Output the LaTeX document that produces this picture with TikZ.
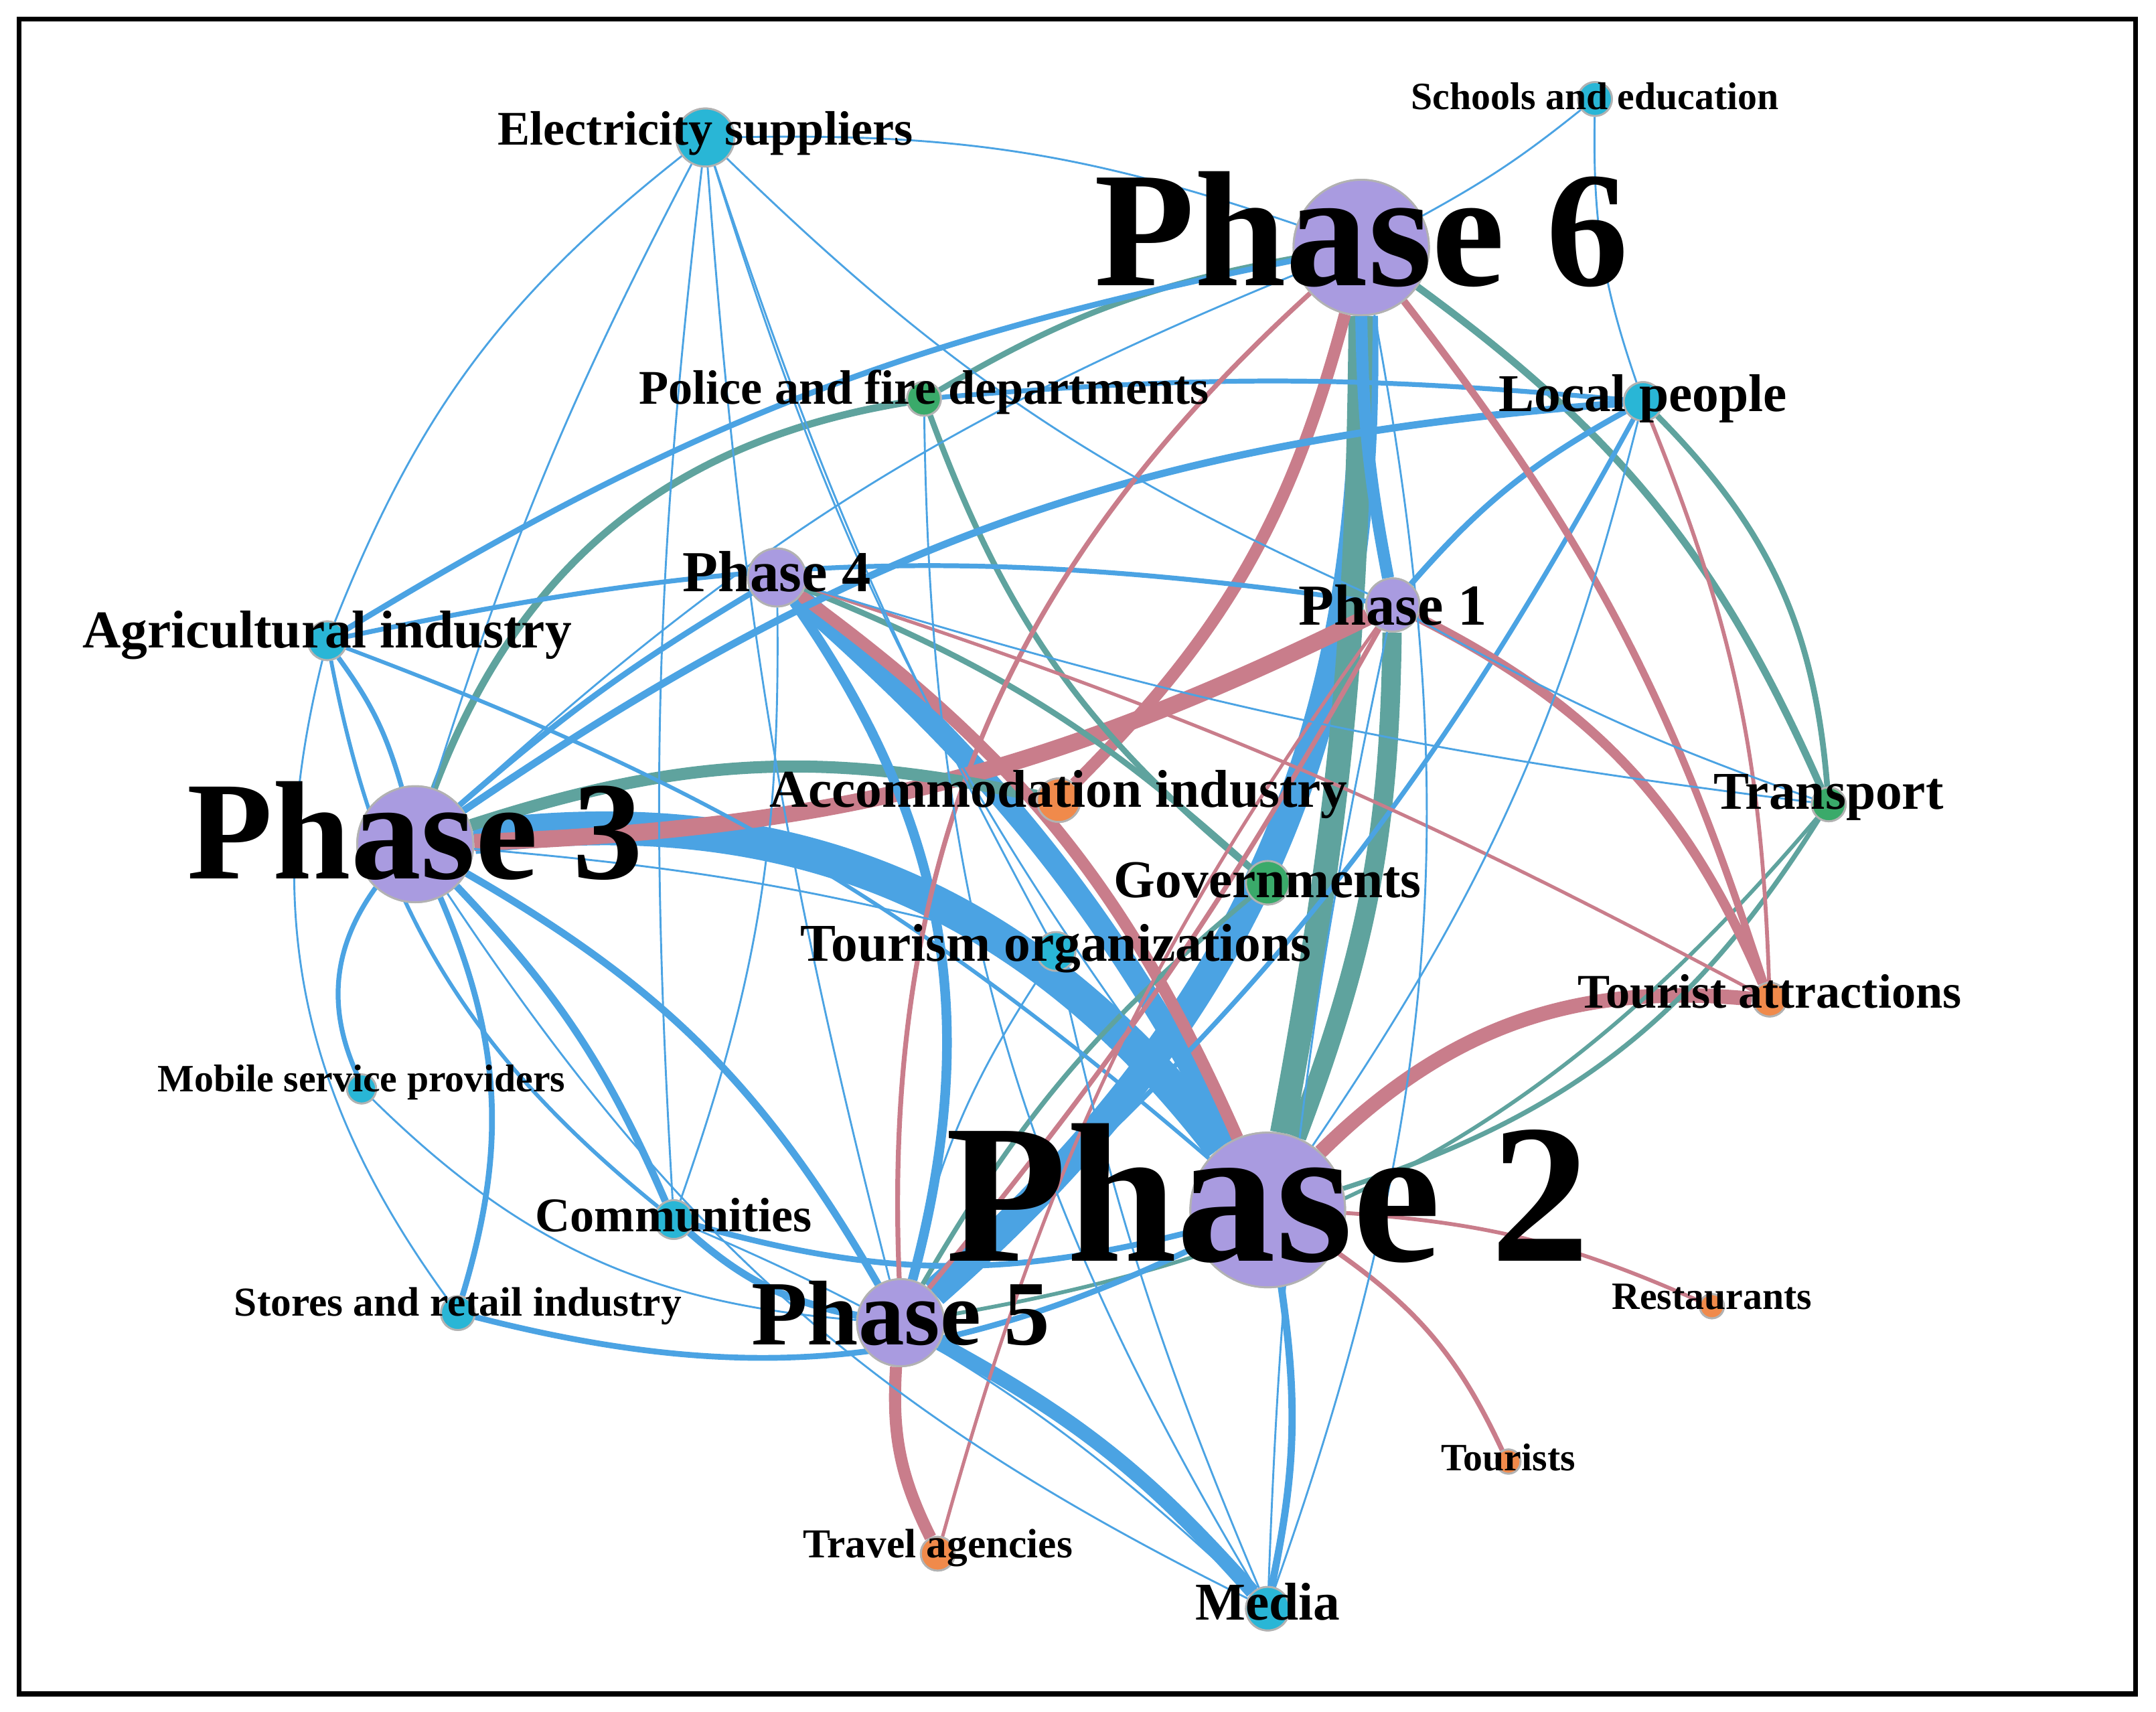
\documentclass[tikz,border=0pt]{standalone}
\usepackage{fontspec}
\setmainfont{Liberation Serif}
\begin{document}
\begin{tikzpicture}[x=0.01cm,y=-0.01cm]
\definecolor{cb}{HTML}{4BA3E3}\definecolor{ct}{HTML}{5FA39E}\definecolor{cp}{HTML}{C97D8B}
\definecolor{ncy}{HTML}{29B6D6}\definecolor{ngr}{HTML}{3AAA6A}\definecolor{nor}{HTML}{F08A4B}\definecolor{npu}{HTML}{A99BE0}
\tikzset{eb/.style={draw=cb,line width=#1},eb/.default=0.4pt,
et/.style={draw=ct,line width=#1},et/.default=0.4pt,
ep/.style={draw=cp,line width=#1},ep/.default=0.4pt,
v/.style={circle,draw=white!70!black,line width=0.4pt,inner sep=0pt,minimum size=#1},
lab/.style={font=\bfseries\fontsize{#1}{#1}\selectfont,inner sep=0pt}}
\useasboundingbox (0,0) rectangle (1568,1245);
\draw[line width=1pt] (14,14) rectangle (1553,1232);
% nodes
\node[v=12pt,fill=ncy] (el) at (513,100) {};
\node[v=7pt,fill=ncy] (sc) at (1160,72) {};
\node[v=28pt,fill=npu] (p6) at (990,180) {};
\node[v=7pt,fill=ngr] (po) at (672,290) {};
\node[v=8pt,fill=ncy] (lo) at (1195,292) {};
\node[v=12pt,fill=npu] (p4) at (565,420) {};
\node[v=11pt,fill=npu] (p1) at (1013,440) {};
\node[v=8pt,fill=ncy] (ag) at (238,466) {};
\node[v=24pt,fill=npu] (p3) at (302,614) {};
\node[v=9pt,fill=nor] (ac) at (770,582) {};
\node[v=7pt,fill=ngr] (tr) at (1330,585) {};
\node[v=9pt,fill=ngr] (go) at (922,642) {};
\node[v=8pt,fill=ncy] (to) at (768,692) {};
\node[v=7pt,fill=nor] (ta) at (1287,727) {};
\node[v=6pt,fill=ncy] (mo) at (263,792) {};
\node[v=32pt,fill=npu] (p2) at (922,880) {};
\node[v=8pt,fill=ncy] (co) at (490,887) {};
\node[v=5pt,fill=nor] (re) at (1245,950) {};
\node[v=7pt,fill=ncy] (st) at (333,955) {};
\node[v=18pt,fill=npu] (p5) at (655,962) {};
\node[v=5pt,fill=nor] (ts) at (1097,1063) {};
\node[v=7pt,fill=nor] (tv) at (682,1130) {};
\node[v=9pt,fill=ncy] (me) at (922,1170) {};
% thick edges
\draw[eb=7pt] (p3) to[bend left=30] (p2);
\draw[eb=6pt] (p6) to[bend left=25] (p5);
\draw[et=5pt] (p6) to[bend left=5] (p2);
\draw[et=4pt] (p1) to[bend left=10] (p2);
\draw[eb=4.5pt] (p4) to[bend left=10] (p2);
\draw[ep=3.5pt] (p3) to[bend right=12] (p1);
\draw[et=2.5pt] (p3) to[bend left=15] (ac);
\draw[ep=2.5pt] (p4) to[bend left=15] (p2);
\draw[ep=2.5pt] (p6) to[bend left=15] (ac);
\draw[eb=2.5pt] (p6) to[bend right=5] (p1);
\draw[eb=2pt] (p4) to[bend left=25] (p5);
\draw[ep=3pt] (p2) to[bend left=25] (ta);
\draw[ep=2.5pt] (p5) to[bend right=15] (tv);
\draw[eb=3pt] (p5) to[bend left=10] (me);
\draw[eb=1.5pt] (p2) to[bend left=10] (me);
\draw[et=1.5pt] (p3) to[bend left=30] (po);
\draw[et=1.2pt] (po) to[bend left=10] (p6);
\draw[et=1.2pt] (po) to[bend right=15] (go);
\draw[et=1.5pt] (p6) to[bend left=15] (tr);
\draw[et=1.2pt] (p4) to[bend left=10] (go);
\draw[et=1pt] (p2) to[bend right=20] (tr);
\draw[et=0.8pt] (p5) to[bend right=20] (tr);
\draw[et=1pt] (p5) to[bend left=10] (go);
\draw[eb=1.5pt] (p3) to[bend left=15] (lo);
\draw[eb=1.2pt] (p3) to[bend left=5] (p4);
\draw[eb=1.5pt] (p3) to[bend left=10] (co);
\draw[eb=1.5pt] (p3) to[bend left=15] (p5);
\draw[eb=1pt] (p3) to[bend right=30] (mo);
\draw[eb=1.2pt] (p3) to[bend left=20] (st);
\draw[eb=1.2pt] (st) to[bend right=20] (p2);
\draw[eb=1.2pt] (co) to[bend right=15] (p2);
\draw[eb=1.5pt] (co) to[bend right=15] (p5);
\draw[eb=1.2pt] (ag) to[bend left=10] (p6);
\draw[eb=1pt] (ag) to[bend left=10] (p1);
\draw[eb=0.8pt] (ag) to[bend right=20] (co);
\draw[eb=0.8pt] (ag) to[bend left=10] (p2);
\draw[eb=1pt] (ag) to[bend left=10] (p3);
\draw[eb=1pt] (po) to[bend left=5] (lo);
\draw[eb=1.2pt] (p1) to[bend left=10] (lo);
\draw[eb=1pt] (lo) to[bend left=10] (p5);
\draw[ep=1pt] (p1) to[bend left=5] (p5);
\draw[ep=1.5pt] (p6) to[bend left=10] (ta);
\draw[ep=2pt] (p1) to[bend left=20] (ta);
\draw[ep=0.8pt] (lo) to[bend left=10] (ta);
\draw[ep=0.8pt] (p2) to[bend left=10] (re);
\draw[ep=1pt] (p2) to[bend left=15] (ts);
\draw[ep=0.7pt] (p4) to[bend left=5] (ta);
\draw[ep=0.7pt] (tv) to[bend left=10] (p1);
\draw[ep=1pt] (p5) to[bend left=25] (p6);
\draw[et=1.2pt] (lo) to[bend left=20] (tr);
\foreach \a/\b/\c in {el/p6/10,el/ag/-15,el/p3/-5,el/co/-5,el/p5/-5,el/p2/-10,el/p1/-10,el/to/-5,sc/p6/5,sc/lo/-10,p6/p3/-10,p1/tr/-5,p1/me/-5,p4/tr/-5,p4/co/10,p2/lo/-10,co/me/10,me/p6/-15,me/to/5,p5/to/10,p3/to/5,mo/p5/-20,ag/st/-25,po/me/-15,p3/me/-15}
  \draw[eb] (\a) to[bend left=\c] (\b);
% redraw nodes on top
\foreach \n/\s/\c in {el/12/ncy,sc/7/ncy,p6/28/npu,po/7/ngr,lo/8/ncy,p4/12/npu,p1/11/npu,ag/8/ncy,p3/24/npu,ac/9/nor,tr/7/ngr,go/9/ngr,to/8/ncy,ta/7/nor,mo/6/ncy,p2/32/npu,co/8/ncy,re/5/nor,st/7/ncy,p5/18/npu,ts/5/nor,tv/7/nor,me/9/ncy}
  \node[v=\s pt,fill=\c] at (\n) {};
% labels
\node[lab=10] at (513,97) {Electricity suppliers};
\node[lab=8] at (1160,70) {Schools and education};
\node[lab=34] at (990,167) {Phase 6};
\node[lab=10] at (672,285) {Police and fire departments};
\node[lab=11] at (1195,290) {Local people};
\node[lab=12] at (565,416) {Phase 4};
\node[lab=12] at (1013,440) {Phase 1};
\node[lab=11] at (238,462) {Agricultural industry};
\node[lab=29] at (302,604) {Phase 3};
\node[lab=11] at (770,578) {Accommodation industry};
\node[lab=11] at (1330,580) {Transport};
\node[lab=11] at (922,640) {Governments};
\node[lab=11] at (768,690) {Tourism organizations};
\node[lab=10] at (1287,721) {Tourist attractions};
\node[lab=8] at (263,787) {Mobile service providers};
\node[lab=41] at (922,868) {Phase 2};
\node[lab=10] at (490,884) {Communities};
\node[lab=8] at (1245,943) {Restaurants};
\node[lab=8.5] at (333,950) {Stores and retail industry};
\node[lab=19] at (655,955) {Phase 5};
\node[lab=8] at (1097,1060) {Tourists};
\node[lab=8.5] at (682,1126) {Travel agencies};
\node[lab=11] at (922,1165) {Media};
\end{tikzpicture}
\end{document}
